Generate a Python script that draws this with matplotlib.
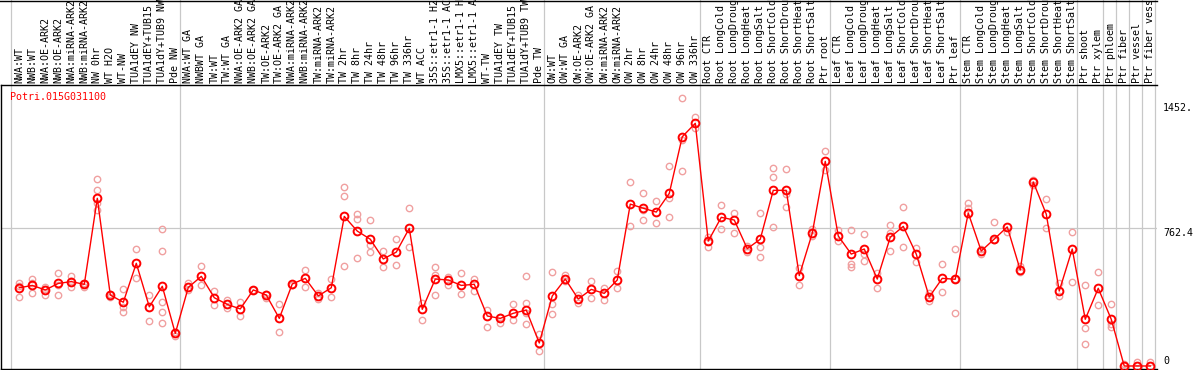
import matplotlib
matplotlib.use("Agg")
import matplotlib.pyplot as plt
from matplotlib.lines import Line2D

# ---------------------------------
# data
# ---------------------------------
gene = "Potri.015G031100"

samples = [
    "NWA:WT", "NWB:WT", "NWA:OE-ARK2", "NWB:OE-ARK2", "NWA:miRNA-ARK2",
    "NWB:miRNA-ARK2", "NW 0hr", "WT H2O", "WT-NW", "TUA1dEY NW",
    "TUA1dEY+TUB15 NW", "TUA1dY+TUB9 NW", "Pde NW", "NWA:WT GA", "NWBWT GA",
    "TW:WT", "TW:WT GA", "NWA:OE-ARK2 GA", "NWB:OE-ARK2 GA", "TW:OE-ARK2",
    "TW:OE-ARK2 GA", "NWA:miRNA-ARK2 GA", "NWB:miRNA-ARK2 GA", "TW:miRNA-ARK2",
    "TW:miRNA-ARK2", "TW 2hr", "TW 8hr", "TW 24hr", "TW 48hr", "TW 96hr",
    "TW 336hr", "WT ACC", "35S::etr1-1 H2O", "35S::etr1-1 ACC",
    "LMX5::etr1-1 H2O", "LMX5::etr1-1 ACC", "WT-TW", "TUA1dEY TW",
    "TUA1dEY+TUB15 TW", "TUA1dY+TUB9 TW", "Pde TW", "OW:WT", "OW:WT GA",
    "OW:OE-ARK2", "OW:OE-ARK2 GA", "OW:miRNA-ARK2", "OW:miRNA-ARK2",
    "OW 2hr", "OW 8hr", "OW 24hr", "OW 48hr", "OW 96hr", "OW 336hr",
    "Root CTR", "Root LongCold", "Root LongDrought", "Root LongHeat",
    "Root LongSalt", "Root ShortCold", "Root ShortDrought", "Root ShortHeat",
    "Root ShortSalt", "Ptr root", "Leaf CTR", "Leaf LongCold",
    "Leaf LongDrought", "Leaf LongHeat", "Leaf LongSalt", "Leaf ShortCold",
    "Leaf ShortDrought", "Leaf ShortHeat", "Leaf ShortSalt", "Ptr leaf",
    "Stem CTR", "Stem LongCold", "Stem LongDrought", "Stem LongHeat",
    "Stem LongSalt", "Stem ShortCold", "Stem ShortDrought", "Stem ShortHeat",
    "Stem ShortSalt", "Ptr shoot", "Ptr xylem", "Ptr phloem", "Ptr fiber",
    "Ptr vessel", "Ptr fiber vessel",
]

means = [
    432, 445, 420, 456, 466, 451, 926, 392, 352, 567,
    327, 440, 180, 434, 495, 377, 340, 315, 420, 392,
    263, 453, 484, 387, 432, 826, 745, 700, 591, 629,
    760, 313, 480, 475, 445, 451, 276, 263, 291, 309,
    127, 387, 480, 370, 423, 401, 475, 894, 871, 850,
    953, 1266, 1340, 690, 821, 806, 648, 700, 970, 970,
    499, 733, 1130, 718, 618, 646, 480, 711, 771, 618,
    381, 484, 479, 845, 635, 701, 768, 530, 1016, 839,
    414, 646, 258, 429, 258, 0, 0, 0,
]

replicates = [
    [457, 379, 440], [479, 405, 460], [438, 394, 425], [512, 394, 450],
    [497, 438, 470], [460, 438, 455], [1032, 972, 861, 900], [379, 398],
    [423, 327, 298], [644, 484], [394, 247], [755, 635, 355, 298, 239],
    [167, 185], [457, 420], [550, 445], [414, 337], [364, 318], [352, 274],
    [420], [398, 374], [340, 186], [450], [530, 436], [405, 372],
    [480, 381], [987, 937, 554], [838, 812, 595], [804, 668, 628],
    [635, 545], [700, 556], [871, 655], [346, 254], [547, 502, 392],
    [493, 445], [512, 396], [479, 416], [309, 214], [270, 239],
    [342, 252], [499, 346, 290, 232], [177, 81], [519, 342, 287],
    [502, 470], [346, 392], [469, 374], [432, 364], [525, 429],
    [1014, 773], [954, 806, 860], [909, 788], [1104, 929, 823],
    [1478, 1250, 1077], [1373, 1312], [714, 659], [887, 758], [843, 733],
    [660, 629], [843, 655, 604], [1093, 1045, 766], [1086, 948, 876],
    [539, 447], [756, 720], [1185, 1082], [751, 689], [751, 565, 545],
    [727, 580, 620], [512, 429], [779, 736, 635], [876, 657], [653, 574],
    [405, 361], [562, 407], [646, 479, 291], [900, 872], [646, 618],
    [795, 696], [740], [552, 519], [1027, 1000], [922, 762], [458, 386],
    [740, 464], [447, 208, 120], [521, 337], [342, 230, 214], [10], [24],
    [20],
]

# first sample of each group (separator lines sit just before them)
group_starts = [0, 13, 41, 53, 63, 73, 82, 84, 85, 86, 87, 88]

y_ticks = [0, 762.4, 1452]
y_tick_labels = ["0", "762.4", "1452."]

# ---------------------------------
# figure
# ---------------------------------
W, H = 1194, 370
fig = plt.figure(figsize=(W / 100, H / 100), dpi=100)
ax = fig.add_axes([1 / W, 1 / H, 1156 / W, 284 / H])

mono = "DejaVu Sans Mono"
fs = 7.2

x = list(range(len(samples)))

# replicates (light)
for i, vals in enumerate(replicates):
    ax.plot([i] * len(vals), vals, "o", ms=4.6, mfc="none",
            mec="#f0a0a0", mew=1.0, zorder=2)

# means line
ax.plot(x, means, "-", color="#ff0000", lw=1.0, zorder=3,
        marker="o", ms=5.6, mfc="none", mec="#ff0000", mew=1.4)

ax.set_xlim(-1.408, 87.52)
ax.set_ylim(-16.6, 1551.7)

# grid
ax.axhline(762.4, color="#c8c8c8", lw=0.9, zorder=1)
top_ext = 1 + 85 / 284
for g in group_starts:
    ax.axvline(g - 0.64, ymin=0, ymax=top_ext, color="#c8c8c8",
               lw=0.9, zorder=1, clip_on=False)

# spines
for s in ["left", "bottom", "top"]:
    ax.spines[s].set_color("black")
    ax.spines[s].set_linewidth(1.0)
ax.spines["right"].set_visible(False)
ax.set_xticks([])
ax.set_yticks([])

# sample labels
for i, name in enumerate(samples):
    ax.text(i, 1 + 2 / 284, name, transform=ax.get_xaxis_transform(),
            rotation=90, ha="center", va="bottom", fontsize=fs,
            family=mono, color="black", clip_on=False)

# right value labels
offsets = [5, -5, -5]
for v, lab, dy in zip(y_ticks, y_tick_labels, offsets):
    ax.annotate(lab, xy=(1, v), xycoords=("axes fraction", "data"),
                xytext=(6, dy), textcoords="offset pixels",
                va="center", ha="left", fontsize=fs, family=mono,
                annotation_clip=False)

# gene name
fig.text(10 / W, 1 - 97 / H, gene, color="#ff0000", fontsize=fs,
         family=mono, va="center", ha="left")

# top border
fig.add_artist(Line2D([0, 1157 / W], [1 - 0.5 / H, 1 - 0.5 / H],
                      color="black", lw=1.0))

fig.savefig("out.png", dpi=100)
